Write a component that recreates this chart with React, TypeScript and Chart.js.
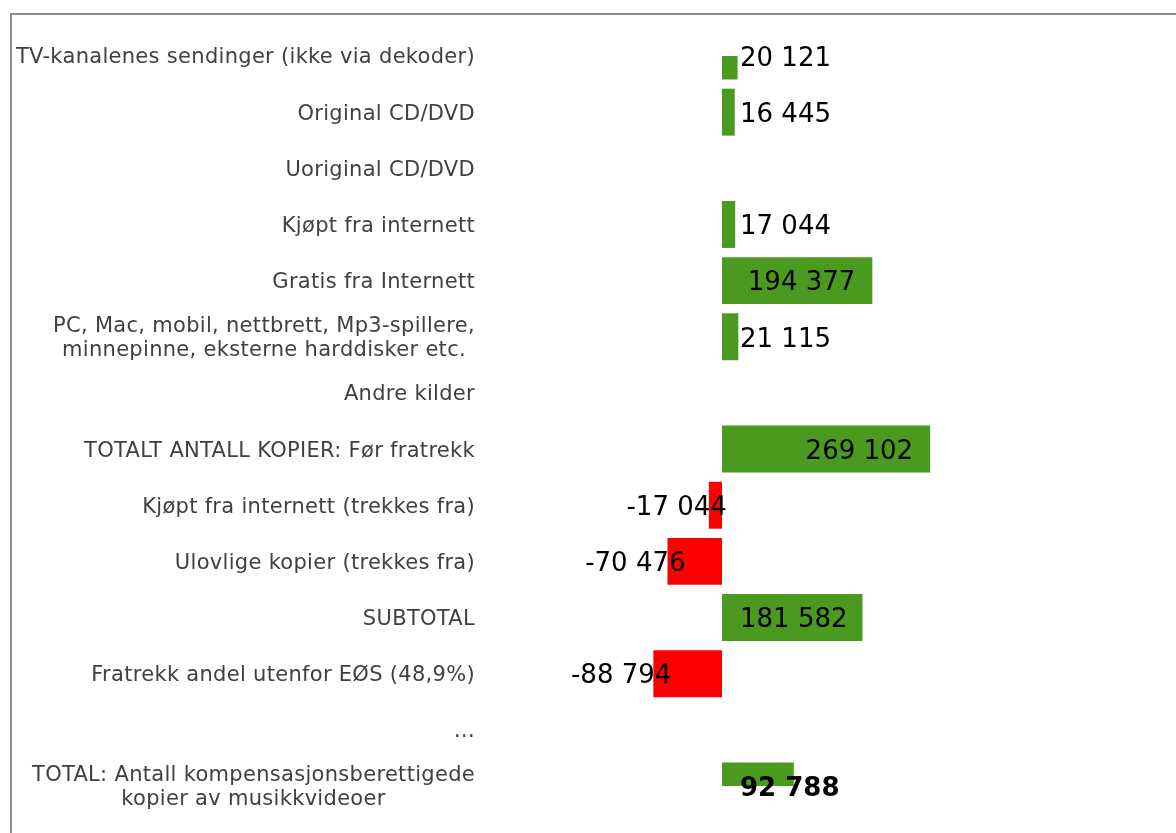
import React, { useEffect, useRef } from "react";
import { Chart, registerables } from "chart.js";

Chart.register(...registerables);

const categories: (string | string[])[] = [
  "TV-kanalenes sendinger (ikke via dekoder)",
  "Original CD/DVD",
  "Uoriginal CD/DVD",
  "Kjøpt fra internett",
  "Gratis fra Internett",
  ["PC, Mac, mobil, nettbrett, Mp3-spillere,", "minnepinne, eksterne harddisker etc."],
  "Andre kilder",
  "TOTALT ANTALL KOPIER: Før fratrekk",
  "Kjøpt fra internett (trekkes fra)",
  "Ulovlige kopier (trekkes fra)",
  "SUBTOTAL",
  "Fratrekk andel utenfor EØS (48,9%)",
  "…",
  ["TOTAL: Antall kompensasjonsberettigede", "kopier av musikkvideoer"],
];

const values: (number | null)[] = [
  20121, 16445, null, 17044, 194377, 21115, null, 269102, -17044, -70476, 181582, -88794, null, 92788,
];

const xMin = -300000;
const xMax = 587000;

const GREEN = "#4a9a1f";
const RED = "#ff0000";
const FONT = "'DejaVu Sans', Verdana, sans-serif";

function fmt(v: number): string {
  const s = String(Math.abs(v)).replace(/\B(?=(\d{3})+(?!\d))/g, " ");
  return (v < 0 ? "-" : "") + s;
}

const labelPlugin = {
  id: "customLabels",
  afterDraw(chart: any) {
    const ctx = chart.ctx;
    const yScale = chart.scales.y;
    const xScale = chart.scales.x;
    ctx.save();
    // category labels
    ctx.font = `21px ${FONT}`;
    (ctx as any).letterSpacing = "0.3px";
    ctx.fillStyle = "#404040";
    ctx.textBaseline = "middle";
    ctx.textAlign = "center";
    const rightEdge = chart.chartArea.left - 15;
    const lineH = 24;
    categories.forEach((c, i) => {
      const lines = Array.isArray(c) ? c : [c];
      const widest = Math.max(...lines.map((l) => ctx.measureText(l).width));
      const cx = rightEdge - widest / 2;
      const cy = yScale.getPixelForTick(i) + 2;
      lines.forEach((l, j) => {
        const y = cy + (j - (lines.length - 1) / 2) * lineH;
        ctx.fillText(l, cx, y);
      });
    });
    (ctx as any).letterSpacing = "0px";
    // value labels
    const zero = xScale.getPixelForValue(0);
    values.forEach((v, i) => {
      if (v === null) return;
      const last = i === values.length - 1;
      ctx.font = `${last ? "bold " : ""}26px ${FONT}`;
      ctx.fillStyle = "#000";
      const txt = fmt(v);
      const w = ctx.measureText(txt).width;
      const end = xScale.getPixelForValue(v);
      const y = yScale.getPixelForTick(i) + (last ? 3 : 3);
      if (v >= 0) {
        const left = Math.max(zero + 18, end - 17 - w);
        ctx.textAlign = "left";
        ctx.fillText(txt, left, y);
      } else {
        ctx.textAlign = "right";
        ctx.fillText(txt, end + 18, y);
      }
    });
    ctx.restore();
  },
};

export default function App() {
  const ref = useRef<HTMLCanvasElement | null>(null);
  useEffect(() => {
    if (!ref.current) return;
    const chart = new Chart(ref.current, {
      type: "bar",
      data: {
        labels: categories.map((c) => (Array.isArray(c) ? c.join(" ") : c)),
        datasets: [
          {
            data: values as any,
            backgroundColor: values.map((v) => ((v ?? 0) < 0 ? RED : GREEN)),
            borderWidth: 0,
            barPercentage: 0.836,
            categoryPercentage: 1,
          },
        ],
      },
      options: {
        indexAxis: "y",
        animation: false,
        responsive: false,
        maintainAspectRatio: false,
        layout: { padding: { top: 41, bottom: 47, left: 0, right: 0 } },
        plugins: { legend: { display: false }, tooltip: { enabled: false } },
        scales: {
          x: {
            display: false,
            min: xMin,
            max: xMax,
          },
          y: {
            offset: false,
            grid: { display: false, drawTicks: false },
            border: { display: false },
            ticks: { display: false },
            afterFit: (s: any) => {
              s.width = 478;
            },
          },
        },
      },
      plugins: [labelPlugin],
    });
    return () => chart.destroy();
  }, []);
  return (
    <div
      style={{
        position: "fixed",
        left: 10,
        top: 13,
        right: 0,
        bottom: 0,
        borderTop: "2px solid #8c8c8c",
        borderLeft: "2px solid #8c8c8c",
        background: "#fff",
        overflow: "hidden",
      }}
    >
      <canvas ref={ref} width={1164} height={818} style={{ display: "block" }} />
    </div>
  );
}
